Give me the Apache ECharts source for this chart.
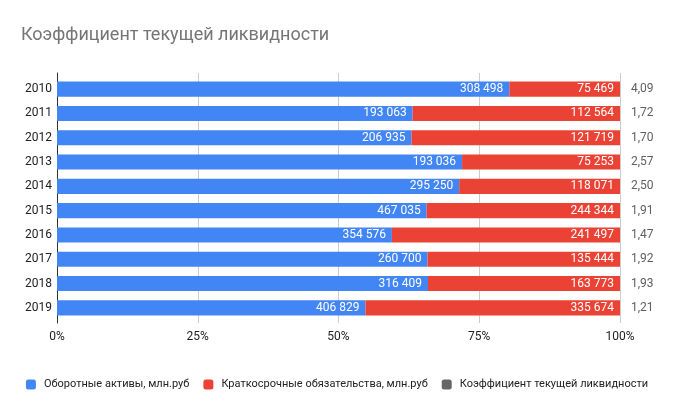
<!DOCTYPE html>
<html>
<head>
<meta charset="utf-8">
<script src="https://cdn.jsdelivr.net/npm/echarts@6/dist/echarts.min.js"></script>
<style>
html,body{margin:0;padding:0;background:#fff;}
#chart{width:674px;height:417px;}
</style>
</head>
<body>
<div id="chart"></div>
<script>
const title = 'Коэффициент текущей ликвидности';
const years = ['2010','2011','2012','2013','2014','2015','2016','2017','2018','2019'];
const currentAssets = [308498,193063,206935,193036,295250,467035,354576,260700,316409,406829];
const currentLiabilities = [75469,112564,121719,75253,118071,244344,241497,135444,163773,335674];
const liquidityRatio = [4.09,1.72,1.70,2.57,2.50,1.91,1.47,1.92,1.93,1.21];
const seriesNames = ['Оборотные активы, млн.руб','Краткосрочные обязательства, млн.руб','Коэффициент текущей ликвидности'];
const xTicks = [0,25,50,75,100];

const totals = currentAssets.map((a,i)=>a+currentLiabilities[i]);
const assetsPct = currentAssets.map((a,i)=>a/totals[i]*100);
const liabPct = currentLiabilities.map((b,i)=>b/totals[i]*100);

function fmtInt(v){ return String(v).replace(/\B(?=(\d{3})+(?!\d))/g,'\u00a0'); }
function fmtRatio(v){ return v.toFixed(2).replace('.',','); }

const FONT = 'Roboto, "Noto Sans", sans-serif';
const chart = echarts.init(document.getElementById('chart'), null, {renderer:'canvas'});
chart.setOption({
  animation:false,
  backgroundColor:'#ffffff',
  textStyle:{fontFamily:FONT},
  title:{
    text:title, left:16, top:21,
    textStyle:{fontSize:18, fontWeight:'normal', color:'#757575', fontFamily:FONT}
  },
  legend:{
    data:seriesNames,
    left:'center', width:674, top:379, padding:0,
    icon:'roundRect', itemWidth:10, itemHeight:10, itemGap:14,
    textStyle:{fontSize:11, color:'#222222', fontFamily:FONT, padding:[0,0,0,3]}
  },
  grid:[
    {left:57, right:54, top:73, height:250, containLabel:false},
    {left:57, right:54, top:77, height:243, containLabel:false}
  ],
  xAxis:[
    {gridIndex:0, type:'value', min:xTicks[0], max:xTicks[xTicks.length-1], interval:25,
     axisLine:{show:false}, axisTick:{show:false},
     axisLabel:{formatter:v=>v+'%', color:'#222222', fontSize:12, margin:8, fontFamily:FONT},
     splitLine:{show:true, lineStyle:{color:'#cccccc', width:1}}},
    {gridIndex:1, type:'value', min:0, max:100, show:false}
  ],
  yAxis:[
    {gridIndex:0, type:'value', min:0, max:1,
     axisLine:{show:true, lineStyle:{color:'#333333', width:1}},
     axisTick:{show:false}, axisLabel:{show:false}, splitLine:{show:false}},
    {gridIndex:1, type:'category', data:years, inverse:true,
     axisLine:{show:false}, axisTick:{show:false},
     axisLabel:{color:'#222222', fontSize:12, margin:5, fontFamily:FONT}}
  ],
  series:[
    {name:seriesNames[0], type:'bar', stack:'s', xAxisIndex:1, yAxisIndex:1,
     data:assetsPct, barCategoryGap:'38%',
     itemStyle:{color:'#4285F4'},
     label:{show:true, position:'insideRight', distance:6, color:'#ffffff', fontSize:12, fontFamily:FONT,
       formatter:p=>fmtInt(currentAssets[p.dataIndex])}},
    {name:seriesNames[1], type:'bar', stack:'s', xAxisIndex:1, yAxisIndex:1,
     data:liabPct, barCategoryGap:'38%',
     itemStyle:{color:'#EA4335'},
     label:{show:true, position:'insideRight', distance:6, color:'#ffffff', fontSize:12, fontFamily:FONT,
       formatter:p=>fmtInt(currentLiabilities[p.dataIndex])}},
    {name:seriesNames[2], type:'bar', stack:'s', xAxisIndex:1, yAxisIndex:1,
     data:liquidityRatio.map(()=>0), barCategoryGap:'38%',
     itemStyle:{color:'#666666'},
     label:{show:true, position:'right', distance:11, color:'#5f5f5f', fontSize:12, fontFamily:FONT,
       formatter:p=>fmtRatio(liquidityRatio[p.dataIndex])}}
  ]
});
</script>
</body>
</html>
